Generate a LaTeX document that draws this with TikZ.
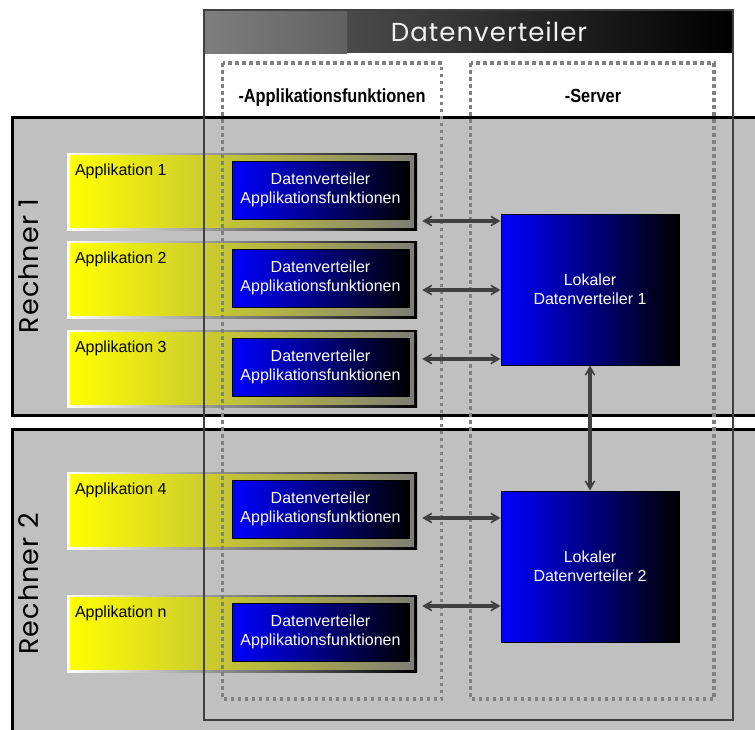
\documentclass[tikz,border=0pt]{standalone}
\usepackage{fontspec}
\setmainfont{Liberation Sans}
\newfontfamily\geo[LetterSpace=4]{Poppins}
\usetikzlibrary{arrows.meta}
\definecolor{rgray}{HTML}{C0C0C0}
\definecolor{darkln}{HTML}{404040}
\definecolor{dotgray}{HTML}{808080}
\definecolor{olivegray}{HTML}{7E7E76}
\definecolor{hdrL}{HTML}{666666}
\definecolor{hdrM}{HTML}{2C2C2C}
\definecolor{hdrA}{HTML}{7E7E7E}
\definecolor{hdrB}{HTML}{616161}
\begin{document}
\begin{tikzpicture}[x=1pt,y=-1pt,
  rechnerbox/.style={fill=rgray,draw=black,line width=3pt},
  rlabel/.style={rotate=90,font=\geo\fontsize{27}{27}\selectfont,inner sep=0pt},
  appouter/.style={left color=white,right color=black,minimum width=350pt,minimum height=77pt,inner sep=0pt},
  applabel/.style={anchor=base west,inner sep=0pt,font=\fontsize{16}{19}\selectfont},
  bluebox/.style={left color=blue,right color=black,draw=black,line width=1pt,text=white,align=center,
     minimum width=177pt,minimum height=58pt,inner sep=0pt,font=\fontsize{16}{19}\selectfont},
  serverbox/.style={left color=blue,right color=black,draw=black,line width=1pt,text=white,align=center,
     minimum width=178pt,minimum height=151pt,inner sep=0pt,font=\fontsize{16}{19}\selectfont},
  framebox/.style={draw=darkln,line width=2.5pt},
  dotbox/.style={draw=dotgray,line width=3.5pt,dash pattern=on 3.5pt off 3.5pt},
  colhead/.style={anchor=base,inner sep=0pt,font=\bfseries\fontsize{19}{19}\selectfont},
  arr/.style={draw=darkln,line width=3.5pt,{Stealth[length=15pt,width=17pt,inset=10pt]}-{Stealth[length=15pt,width=17pt,inset=10pt]}}
]
\useasboundingbox (0,0) rectangle (755,729);
\fill[white] (0,0) rectangle (755,729);
\begin{scope}
\clip (0,0) rectangle (755,729);
% Rechner boxes
\draw[rechnerbox] (12,117) rectangle (775,415);
\draw[rechnerbox] (12,429) rectangle (775,750);
\node[rlabel] (r1) at (29,266) {Rechner 1};
\node[rlabel] (r2) at (29,584) {Rechner 2};
% application boxes
\foreach \n/\t in {1/153,2/241,3/330,4/472,n/595}{
  \node[appouter] (a\n) at (242,\t+38.5) {};
  \shade[left color=yellow,right color=olivegray] ([shift={(3,3)}]a\n.north west) rectangle ([shift={(-3,-3)}]a\n.south east);
  \node[applabel] (l\n) at ([shift={(8,23)}]a\n.north west) {Applikation \n};
}
% frame and header
\shade[left color=hdrL,middle color=hdrM,right color=black] (204,10) rectangle (733,52);
\shade[left color=hdrA,right color=hdrB] (204,10) rectangle (347,53);
\draw[framebox] (204,10) rectangle (733,720);
\node[text=white!94!black,font=\geo\fontsize{26}{26}\selectfont,inner sep=0pt] (hdr) at (489,32) {Datenverteiler};
% dotted columns
\draw[dotbox] (222.5,63) rectangle (441.5,699);
\draw[dotbox] (470.5,63) rectangle (714,699);
\node[colhead] (c1) at (332,102.5) {\scalebox{0.86}[1]{-Applikationsfunktionen}};
\node[colhead] (c2) at (593,102.5) {\scalebox{0.86}[1]{-Server}};
% blue function boxes
\foreach \n/\t in {1/153,2/241,3/330,4/472,n/595}{
  \node[bluebox] (d\n) at (320.5,\t+37) {Datenverteiler\\Applikationsfunktionen};
}
% servers
\node[serverbox] (s1) at (590,289.5) {Lokaler\\Datenverteiler 1};
\node[serverbox] (s2) at (590,566.5) {Lokaler\\Datenverteiler 2};
% arrows
\coordinate (p1) at ([xshift=5pt]a1.east |- 0,221);
\coordinate (p2) at ([xshift=5pt]a2.east |- 0,290);
\coordinate (p3) at ([xshift=5pt]a3.east |- 0,359);
\coordinate (p4) at ([xshift=5pt]a4.east |- 0,518);
\coordinate (p5) at ([xshift=5pt]an.east |- 0,606);
\foreach \p in {p1,p2,p3}{\draw[arr] (\p) -- (\p -| s1.west);}
\foreach \p in {p4,p5}{\draw[arr] (\p) -- (\p -| s2.west);}
\draw[arr] (s1.south) -- (s2.north);
\end{scope}
\end{tikzpicture}
\end{document}
